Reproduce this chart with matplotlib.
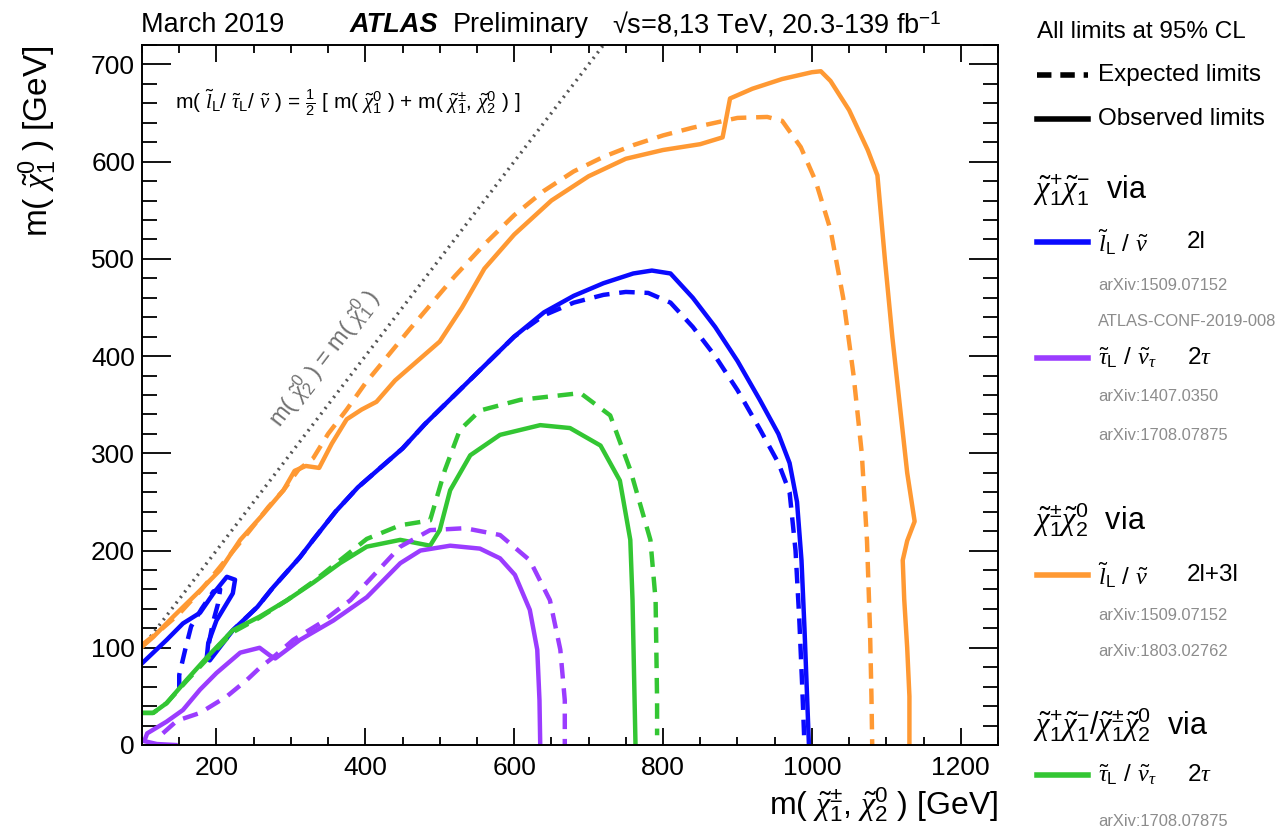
import matplotlib
matplotlib.use("Agg")
import matplotlib.pyplot as plt
from matplotlib.lines import Line2D
from matplotlib.ticker import MultipleLocator

plt.rcParams["font.family"] = ["Liberation Sans", "DejaVu Sans"]
plt.rcParams["mathtext.fontset"] = "custom"
plt.rcParams["mathtext.rm"] = "Liberation Sans"
plt.rcParams["mathtext.it"] = "Liberation Serif:italic"
plt.rcParams["mathtext.sf"] = "Liberation Sans"

BLUE = "#0a0aff"
PURPLE = "#9b3cff"
ORANGE = "#ff9933"
GREEN = "#33c633"

# kinematic diagonal m(chi2) = m(chi1)
diag_x = [100, 720]
diag_y = [100, 720]

# chi1+chi1- via slepton/sneutrino, 2l
blue_obs_x = [100, 133, 155, 178, 196, 214, 225, 222, 200, 189, 187, 191, 222, 255, 276, 312, 330,
              360, 390, 420, 450, 480, 520, 560, 600, 640, 680, 720, 760, 785, 810, 840, 870, 900,
              930, 955, 970, 980, 986, 990, 993, 996]
blue_obs_y = [84, 108, 125, 136, 156, 173, 170, 156, 128, 105, 90, 87, 118, 142, 162, 193, 211,
              240, 265, 285, 305, 330, 360, 390, 420, 445, 462, 475, 485, 488, 485, 460, 430, 395,
              355, 320, 290, 250, 190, 120, 60, 0]
blue_exp_x = [150, 150, 158, 166, 180, 196, 205, 202, 195, 190, 192, 222, 255, 276, 312, 330, 360,
              390, 420, 450, 480, 520, 560, 600, 640, 680, 720, 750, 780, 810, 840, 870, 900, 930,
              955, 970, 978, 983, 987, 990]
blue_exp_y = [58, 72, 98, 122, 140, 158, 160, 145, 125, 105, 93, 118, 142, 162, 193, 211, 240,
              265, 285, 305, 330, 360, 390, 420, 442, 455, 463, 466, 465, 455, 430, 400, 365, 325,
              290, 260, 200, 130, 60, 0]

# chi1+chi1- via stau/sneutrino, 2tau
purple_obs_x = [145, 120, 103, 107, 133, 155, 178, 200, 232, 258, 272, 279, 312, 357, 402, 447,
                474, 514, 554, 581, 601, 621, 631, 634, 635]
purple_obs_y = [0, 1, 4, 12, 24, 36, 57, 74, 95, 100, 92, 89, 108, 128, 152, 187,
                200, 205, 202, 192, 175, 139, 98, 46, 0]
purple_exp_x = [128, 147, 178, 214, 241, 259, 276, 303, 339, 380, 447, 487, 534, 581, 621, 648,
                662, 668, 668]
purple_exp_y = [12, 25, 33, 50, 67, 80, 90, 108, 125, 149, 204, 221, 223, 216, 190, 149,
                98, 46, 0]

# chi1+-chi20 via slepton/sneutrino, 2l+3l
orange_obs_x = [100, 115, 142, 178, 205, 232, 260, 290, 305, 320, 338, 355, 375, 395, 415, 440,
                470, 500, 530, 560, 600, 650, 700, 750, 800, 850, 880, 890, 920, 960, 1000, 1012,
                1025, 1050, 1075, 1088, 1098, 1108, 1118, 1128, 1138, 1128, 1122, 1124, 1128,
                1131, 1131]
orange_obs_y = [101, 111, 132, 159, 180, 211, 235, 262, 282, 287, 285, 310, 335, 345, 353, 375,
                395, 415, 450, 490, 525, 560, 585, 603, 612, 618, 625, 665, 675, 685, 692, 693,
                683, 653, 612, 586, 500, 420, 350, 280, 230, 210, 190, 150, 100, 50, 0]
orange_exp_x = [100, 120, 150, 180, 210, 240, 270, 290, 310, 330, 350, 375, 400, 430, 460, 490,
                520, 560, 600, 640, 680, 720, 760, 800, 840, 870, 900, 940, 960, 985, 1005, 1025,
                1042, 1056, 1067, 1074, 1078, 1080, 1081]
orange_exp_y = [103, 115, 135, 160, 188, 216, 245, 262, 283, 295, 320, 345, 372, 400, 428, 455,
                482, 515, 545, 570, 590, 605, 617, 627, 635, 640, 645, 646, 642, 615, 580, 530,
                460, 380, 300, 210, 120, 50, 0]

# chi1+chi1- / chi1+-chi20 via stau/sneutrino, 2tau
green_obs_x = [100, 115, 133, 160, 187, 222, 258, 295, 330, 366, 402, 447, 487, 500, 514, 541,
               581, 635, 675, 716, 742, 756, 759, 763]
green_obs_y = [33, 33, 43, 67, 90, 118, 132, 149, 167, 187, 204, 211, 205, 221, 262, 298,
               319, 329, 326, 308, 272, 211, 149, 0]
green_exp_x = [100, 115, 133, 160, 187, 222, 258, 295, 330, 366, 402, 447, 487, 507, 527, 554,
               608, 689, 729, 756, 783, 790, 792, 792]
green_exp_y = [33, 33, 43, 66, 88, 116, 131, 149, 168, 190, 212, 226, 231, 283, 324, 344,
               355, 362, 339, 283, 211, 149, 46, 10]

fig = plt.figure(figsize=(12.8, 8.39), dpi=100)
ax = fig.add_axes([142 / 1280, 94 / 839, 856 / 1280, 700 / 839])

ax.plot(diag_x, diag_y, color="#555555", lw=2.4, ls=(0, (0.6, 1.5)))

lw = 3.2
dash = (0, (3.5, 2.2))
ax.plot(orange_exp_x, orange_exp_y, color=ORANGE, lw=lw, ls=dash)
ax.plot(orange_obs_x, orange_obs_y, color=ORANGE, lw=lw)
ax.plot(blue_exp_x, blue_exp_y, color=BLUE, lw=lw, ls=dash)
ax.plot(blue_obs_x, blue_obs_y, color=BLUE, lw=lw)
ax.plot(green_exp_x, green_exp_y, color=GREEN, lw=lw, ls=dash)
ax.plot(green_obs_x, green_obs_y, color=GREEN, lw=lw)
ax.plot(purple_exp_x, purple_exp_y, color=PURPLE, lw=lw, ls=dash)
ax.plot(purple_obs_x, purple_obs_y, color=PURPLE, lw=lw)

ax.set_xlim(100, 1250)
ax.set_ylim(0, 720)
ax.xaxis.set_major_locator(MultipleLocator(200))
ax.xaxis.set_minor_locator(MultipleLocator(50))
ax.yaxis.set_major_locator(MultipleLocator(100))
ax.yaxis.set_minor_locator(MultipleLocator(20))
ax.tick_params(which="both", direction="in", top=True, right=True, width=1.3, labelsize=19)
ax.tick_params(axis="x", which="major", length=12)
ax.tick_params(axis="x", which="minor", length=6)
ax.tick_params(axis="y", which="major", length=21)
ax.tick_params(axis="y", which="minor", length=11)
ax.tick_params(axis="x", pad=8)
ax.tick_params(axis="y", pad=5)
for s in ax.spines.values():
    s.set_linewidth(1.4)

ax.text(345, 398, r"m( $\tilde{\chi}^{0}_{2}$ ) = m( $\tilde{\chi}^{0}_{1}$ )", color="#707070",
        fontsize=17, rotation=52.6, ha="center", va="center")

fig.text(175 / 1280, 1 - 103 / 839,
         r"m( $\tilde{l}_{\mathrm{L}}$/ $\tilde{\tau}_{\mathrm{L}}$/ $\tilde{\nu}$ ) = $\frac{1}{2}$ [ m( $\tilde{\chi}^{0}_{1}$ ) + m( $\tilde{\chi}^{\pm}_{1}$, $\tilde{\chi}^{0}_{2}$ ) ]",
         fontsize=15, ha="left", va="center")

fig.text(998 / 1280, 1 - 805 / 839, r"m( $\tilde{\chi}^{\pm}_{1}$, $\tilde{\chi}^{0}_{2}$ ) [GeV]",
         fontsize=23, ha="right", va="center")
fig.text(38 / 1280, 1 - 45 / 839, r"m( $\tilde{\chi}^{0}_{1}$ ) [GeV]",
         fontsize=24, ha="center", va="top", rotation=90)

fig.text(141 / 1280, 1 - 25 / 839, "March 2019", fontsize=19.5, ha="left", va="center")
fig.text(350 / 1280, 1 - 25 / 839, "ATLAS", fontsize=19.5, fontweight="bold", fontstyle="italic",
         ha="left", va="center")
fig.text(453 / 1280, 1 - 25 / 839, "Preliminary", fontsize=19.5, ha="left", va="center")
fig.text(612 / 1280, 1 - 25 / 839, "\u221as=8,13 TeV, 20.3-139 fb$^{\\mathrm{-1}}$",
         fontsize=19.5, ha="left", va="center")

# legend column on the right
LX0, LX1, TX, CX = 1037, 1088, 1098, 1187


def fy(py):
    return 1 - py / 839


def sample(py, color, ls="-"):
    fig.add_artist(Line2D([LX0 / 1280, LX1 / 1280], [fy(py), fy(py)], color=color, lw=4,
                          ls=ls, transform=fig.transFigure))


fig.text(LX0 / 1280, fy(32), "All limits at 95% CL", fontsize=17.5, ha="left", va="center")
sample(75, "black", (0, (2.6, 1.6)))
fig.text(TX / 1280, fy(75), "Expected limits", fontsize=17.5, ha="left", va="center")
sample(119, "black")
fig.text(TX / 1280, fy(119), "Observed limits", fontsize=17.5, ha="left", va="center")

headers = [
    (190, r"$\tilde{\chi}^{+}_{1}\tilde{\chi}^{-}_{1}$  via"),
    (520, r"$\tilde{\chi}^{\pm}_{1}\tilde{\chi}^{0}_{2}$  via"),
    (725, r"$\tilde{\chi}^{+}_{1}\tilde{\chi}^{-}_{1}$/$\tilde{\chi}^{\pm}_{1}\tilde{\chi}^{0}_{2}$  via"),
]
for py, txt in headers:
    fig.text(LX0 / 1280 - 0.003, fy(py), txt, fontsize=22, ha="left", va="center")

entries = [
    (242, BLUE, r"$\tilde{l}_{\mathrm{L}}$ / $\tilde{\nu}$", "2l"),
    (358, PURPLE, r"$\tilde{\tau}_{\mathrm{L}}$ / $\tilde{\nu}_{\tau}$", r"2$\tau$"),
    (575, ORANGE, r"$\tilde{l}_{\mathrm{L}}$ / $\tilde{\nu}$", "2l+3l"),
    (775, GREEN, r"$\tilde{\tau}_{\mathrm{L}}$ / $\tilde{\nu}_{\tau}$", r"2$\tau$"),
]
for py, color, txt, chan in entries:
    sample(py, color)
    fig.text(TX / 1280, fy(py), txt, fontsize=17.5, ha="left", va="center")
    fig.text(CX / 1280, fy(py), chan, fontsize=17.5, ha="left", va="center")

refs = [
    (286, "arXiv:1509.07152"),
    (322, "ATLAS-CONF-2019-008"),
    (397, "arXiv:1407.0350"),
    (435, "arXiv:1708.07875"),
    (615, "arXiv:1509.07152"),
    (652, "arXiv:1803.02762"),
    (822, "arXiv:1708.07875"),
]
for py, txt in refs:
    fig.text(TX / 1280, fy(py), txt, fontsize=11.9, color="#8c8c8c", ha="left", va="center")

fig.savefig("out.png", dpi=100)
